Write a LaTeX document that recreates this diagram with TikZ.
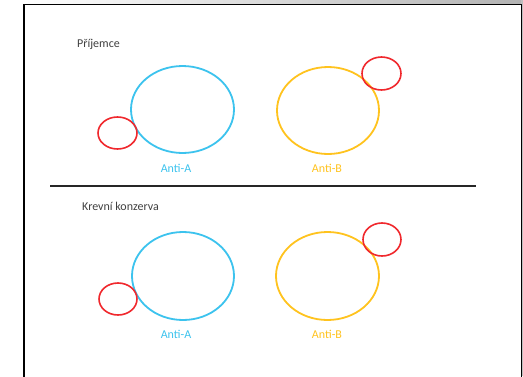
\documentclass[tikz,border=0pt]{standalone}
\usepackage{fontspec}
\setmainfont{Carlito}
\definecolor{antiA}{HTML}{3CC3EE}
\definecolor{antiB}{HTML}{FFC31E}
\definecolor{aglut}{HTML}{F0282D}
\definecolor{txtgray}{HTML}{404040}
\begin{document}
\begin{tikzpicture}[x=1pt,y=-1pt,
  smallell/.style={draw=aglut, line width=1.6pt},
  lbl/.style={font=\fontsize{12}{14}\selectfont, anchor=center, inner sep=0pt},
  head/.style={font=\fontsize{12}{14}\selectfont, text=txtgray, anchor=west, inner sep=0pt}]
\useasboundingbox (0,0) rectangle (523,376);
\fill[white] (0,0) rectangle (523,376);
\shade[left color=white, right color=black!30] (24,0) rectangle (523,4);
\fill[black!25] (521,0) rectangle (523,376);
\draw[line width=1.8pt] (24,377) -- (24,4.5) -- (521.5,4.5) -- (521.5,377);
% top section
\node[head] (prj) at (77,44.5) {Příjemce};
\draw[antiA, line width=1.8pt] (182.5,109.5) ellipse [x radius=51.5, y radius=43.5];
\draw[smallell] (117.5,133) ellipse [x radius=19.5, y radius=16];
\node[lbl, text=antiA] (la1) at (176,168) {Anti-A};
\draw[antiB, line width=1.8pt] (328,110.5) ellipse [x radius=51, y radius=43.5];
\draw[smallell] (381.5,73.5) ellipse [x radius=19.5, y radius=16.5];
\node[lbl, text=antiB] (lb1) at (327,168) {Anti-B};
% separator
\coordinate (s1) at (50,186);
\coordinate (s2) at (476,186);
\draw[line width=1.5pt, black!85] (s1) -- (s2);
% bottom section
\node[head] (krv) at (82,206) {Krevní konzerva};
\draw[antiA, line width=1.8pt] (183,276) ellipse [x radius=51, y radius=44];
\draw[smallell] (118,299) ellipse [x radius=19, y radius=16];
\node[lbl, text=antiA] (la2) at (176,334) {Anti-A};
\draw[antiB, line width=1.8pt] (327.5,276) ellipse [x radius=51.5, y radius=44];
\draw[smallell] (382,239.5) ellipse [x radius=19, y radius=16.5];
\node[lbl, text=antiB] (lb2) at (327,334) {Anti-B};
\end{tikzpicture}
\end{document}
